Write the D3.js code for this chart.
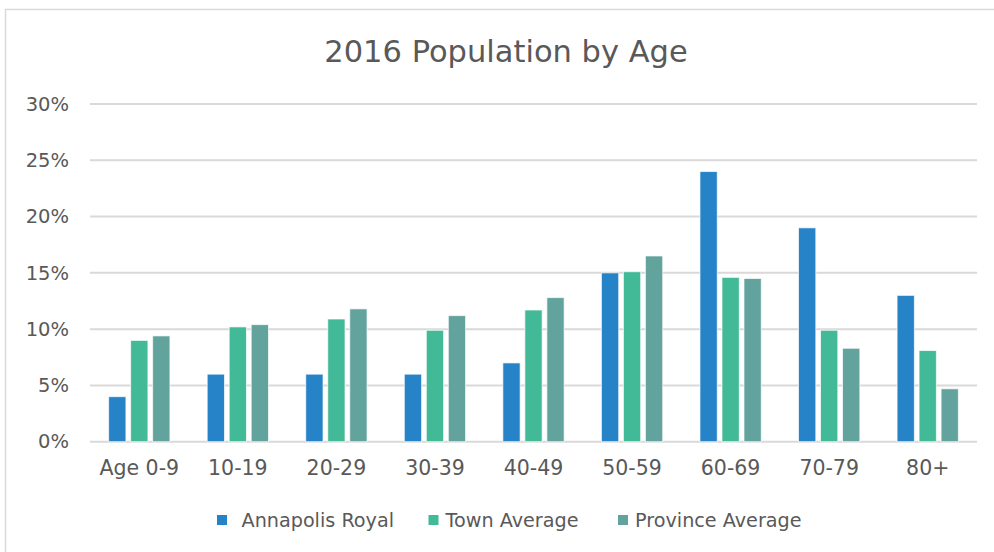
<!DOCTYPE html>
<html>
<head>
<meta charset="utf-8">
<script src="https://cdn.jsdelivr.net/npm/d3@7"></script>
<style>
  html, body { margin: 0; padding: 0; background: #fff; }
  svg { display: block; font-family: "DejaVu Sans", sans-serif; }
</style>
</head>
<body>
<svg id="chart" width="994" height="552"></svg>
<script>
const categories = ["Age 0-9", "10-19", "20-29", "30-39", "40-49", "50-59", "60-69", "70-79", "80+"];
const seriesNames = ["Annapolis Royal", "Town Average", "Province Average"];
const annapolisRoyal = [4, 6, 6, 6, 7, 15, 24, 19, 13];
const townAverage = [9.0, 10.2, 10.9, 9.9, 11.7, 15.1, 14.6, 9.9, 8.1];
const provinceAverage = [9.4, 10.4, 11.8, 11.2, 12.8, 16.5, 14.5, 8.3, 4.7];
const yTicks = [0, 5, 10, 15, 20, 25, 30];
const colors = ["#2783C7", "#43BA97", "#62A39E"];
const title = "2016 Population by Age";

const seriesValues = [annapolisRoyal, townAverage, provinceAverage];
const svg = d3.select("#chart");

// Frame
svg.append("rect")
  .attr("x", 5.5).attr("y", 9.5)
  .attr("width", 1000).attr("height", 560)
  .attr("fill", "#fff").attr("stroke", "#d9d9d9").attr("stroke-width", 1.5);

const x0 = d3.scaleBand().domain(categories).range([90, 977])
  .paddingInner(0.378).paddingOuter(0.189);
const x1 = d3.scaleBand().domain(seriesNames).range([0, x0.bandwidth()])
  .paddingInner(0.214).paddingOuter(0);
const y = d3.scaleLinear().domain([0, 30]).range([441.7, 104]);
const color = d3.scaleOrdinal().domain(seriesNames).range(colors);

// Gridlines
svg.append("g").selectAll("line").data(yTicks).join("line")
  .attr("x1", 90).attr("x2", 977)
  .attr("y1", d => y(d)).attr("y2", d => y(d))
  .attr("stroke", "#d9d9d9").attr("stroke-width", 2);

// Y axis labels
const yAxis = d3.axisLeft(y).tickValues(yTicks).tickFormat(d => d + "%").tickSize(0).tickPadding(0);
const gy = svg.append("g").attr("transform", "translate(69,0)").call(yAxis);
gy.select(".domain").remove();
gy.selectAll("text").attr("font-size", 19.5).attr("fill", "#595959")
  .attr("font-family", "DejaVu Sans, sans-serif");

// X axis labels
const xAxis = d3.axisBottom(x0).tickSize(0).tickPadding(0);
const gx = svg.append("g").attr("transform", "translate(0,460)").call(xAxis);
gx.select(".domain").remove();
gx.selectAll("text").attr("font-size", 20.5).attr("fill", "#595959")
  .attr("font-family", "DejaVu Sans, sans-serif");

// Bars
const data = categories.map((c, i) => ({
  cat: c,
  vals: seriesNames.map((s, j) => ({ series: s, value: seriesValues[j][i] }))
}));
svg.append("g").selectAll("g").data(data).join("g")
  .attr("transform", d => `translate(${x0(d.cat)},0)`)
  .selectAll("rect").data(d => d.vals).join("rect")
  .attr("x", d => x1(d.series))
  .attr("width", x1.bandwidth())
  .attr("y", d => y(d.value))
  .attr("height", d => y(0) - y(d.value))
  .attr("fill", d => color(d.series))
  .attr("stroke", "rgba(255,255,255,0.7)")
  .attr("stroke-width", 1);

// Title
svg.append("text").attr("x", 506).attr("y", 62)
  .attr("text-anchor", "middle").attr("font-size", 30.5)
  .attr("fill", "#595959").text(title);

// Legend
const legendX = [217, 428.5, 618];
const lg = svg.append("g").selectAll("g").data(seriesNames).join("g")
  .attr("transform", (d, i) => `translate(${legendX[i]},515)`);
lg.append("rect").attr("width", 10).attr("height", 10).attr("fill", d => color(d));
lg.append("text").attr("x", (d, i) => i === 0 ? 24.5 : 17).attr("y", 11.5)
  .attr("font-size", 19.2).attr("fill", "#595959").text(d => d);
</script>
</body>
</html>
